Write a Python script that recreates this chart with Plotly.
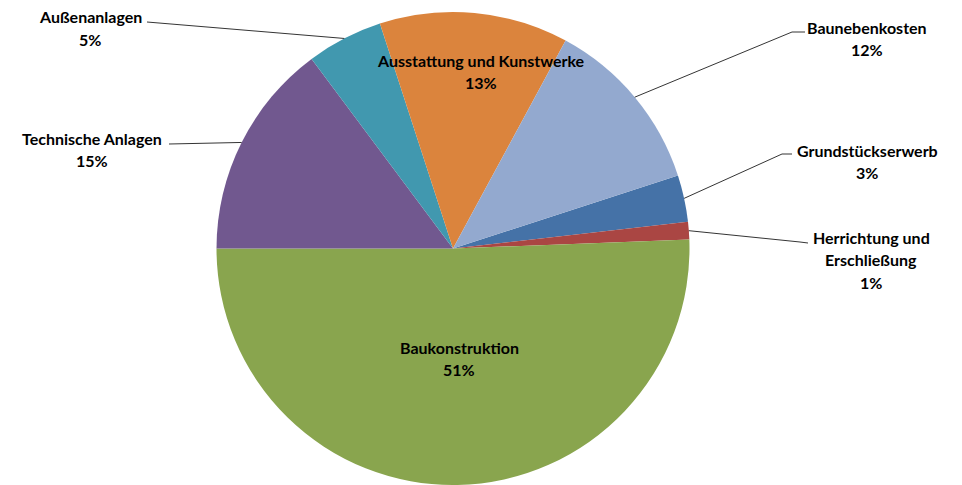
import math
import plotly.graph_objects as go

# Kostengruppen (Anteile in %)
categories = [
    "Grundstückserwerb",
    "Herrichtung und Erschließung",
    "Baukonstruktion",
    "Technische Anlagen",
    "Außenanlagen",
    "Ausstattung und Kunstwerke",
    "Baunebenkosten",
]
values = [3.2, 1.2, 50.6, 14.8, 5.2, 12.9, 12.1]
colors = ["#4572A7", "#AA4643", "#89A54E", "#71588F", "#4198AF", "#DB843D", "#93A9CF"]

W, H = 962, 485
ROTATION = 72
CX, CY, R = 453.0, 248.5, 236.5

# label text lines and centre of the first line (px)
label_lines = {
    "Grundstückserwerb": ["Grundstückserwerb"],
    "Herrichtung und Erschließung": ["Herrichtung und", "Erschließung"],
    "Baukonstruktion": ["Baukonstruktion"],
    "Technische Anlagen": ["Technische Anlagen"],
    "Außenanlagen": ["Außenanlagen"],
    "Ausstattung und Kunstwerke": ["Ausstattung und Kunstwerke"],
    "Baunebenkosten": ["Baunebenkosten"],
}
label_pos = {
    "Grundstückserwerb": (867, 150),
    "Herrichtung und Erschließung": (871, 237),
    "Baukonstruktion": (459, 347),
    "Technische Anlagen": (92, 138),
    "Außenanlagen": (90, 17),
    "Ausstattung und Kunstwerke": (481, 60),
    "Baunebenkosten": (867, 27),
}
# leader lines: elbow and end point at the label (px)
leaders = {
    "Grundstückserwerb": [(782, 154), (792, 154)],
    "Herrichtung und Erschließung": [(800, 242), (808, 243)],
    "Technische Anlagen": [(169, 144), (169, 144)],
    "Außenanlagen": [(147, 22), (147, 22)],
    "Baunebenkosten": [(792, 32), (805, 32)],
}

LINE_H = 22.5
FONT = dict(family="Lato, 'Open Sans', sans-serif", size=16, color="#000000")


def px(x, y):
    return x / W, 1 - y / H


fig = go.Figure(
    go.Pie(
        labels=categories,
        values=values,
        sort=False,
        direction="clockwise",
        rotation=ROTATION,
        marker=dict(colors=colors, line=dict(width=0)),
        textinfo="none",
        hoverinfo="label+percent",
        domain=dict(x=[(CX - R) / W, (CX + R) / W], y=[1 - (CY + R) / H, 1 - (CY - R) / H]),
        showlegend=False,
    )
)

total = sum(values)
annotations = []
shapes = []
cum = 0.0
for cat, v in zip(categories, values):
    mid = math.radians(ROTATION + (cum + v / 2) / total * 360)
    cum += v
    pct = f"{round(v / total * 100):.0f}%"
    lines = label_lines[cat] + [pct]
    lx, ly = label_pos[cat]
    for i, t in enumerate(lines):
        x, y = px(lx, ly + i * LINE_H)
        annotations.append(dict(
            x=x, y=y, xref="paper", yref="paper", text=f"<b>{t}</b>",
            showarrow=False, xanchor="center", yanchor="middle", font=FONT,
        ))
    if cat in leaders:
        ex, ey = CX + R * math.sin(mid), CY - R * math.cos(mid)
        (bx, by), (tx, ty) = leaders[cat]
        pts = [px(ex, ey), px(bx, by), px(tx, ty)]
        path = "M {} {} L {} {} L {} {}".format(*[c for p in pts for c in p])
        shapes.append(dict(type="path", path=path, xref="paper", yref="paper",
                           line=dict(color="#000000", width=0.8)))

fig.update_layout(
    width=W, height=H,
    margin=dict(l=0, r=0, t=0, b=0),
    paper_bgcolor="white", plot_bgcolor="white",
    annotations=annotations, shapes=shapes,
)
fig.write_html("out.html")
